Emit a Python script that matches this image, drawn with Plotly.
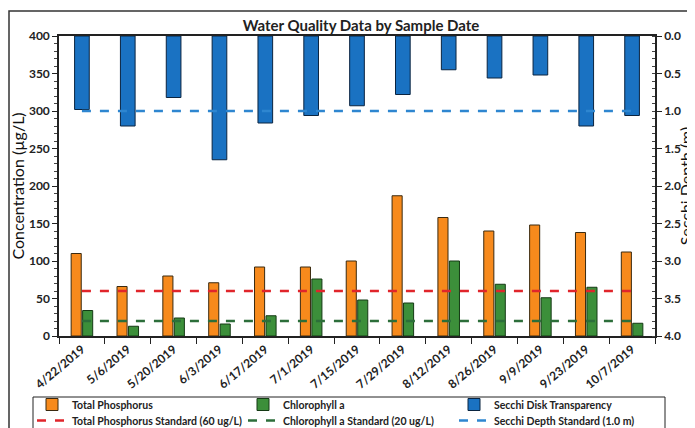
import plotly.graph_objects as go

dates = ["4/22/2019", "5/6/2019", "5/20/2019", "6/3/2019", "6/17/2019", "7/1/2019",
         "7/15/2019", "7/29/2019", "8/12/2019", "8/26/2019", "9/9/2019", "9/23/2019", "10/7/2019"]
total_phosphorus = [110, 66, 80, 71, 92, 92, 100, 187, 158, 140, 148, 138, 112]
chlorophyll_a = [34, 13, 24, 16, 27, 76, 48, 44, 100, 69, 51, 65, 17]
secchi_depth = [0.98, 1.20, 0.82, 1.65, 1.16, 1.06, 0.93, 0.78, 0.45, 0.56, 0.52, 1.20, 1.06]
tp_standard = [60] * len(dates)
chl_standard = [20] * len(dates)
secchi_standard = [1.0] * len(dates)

FONT = "Lato"
OFF = 8  # default body margin of the html page
W, H = 695 - OFF, 428 - OFF
# plot area in page pixels: x 59..655, y 36..336
L, T = 59 - OFF, 36 - OFF
R = W - (655 - OFF)
B = H - (336 - OFF)
PW, PH = W - L - R, H - T - B


def px_x(p):
    return (p - OFF - L) / PW


def px_y(p):
    return (H - B - (p - OFF)) / PH


fig = go.Figure()
fig.add_trace(go.Bar(x=dates, y=total_phosphorus, name="Total Phosphorus",
                     marker=dict(color="#F78A1C", line=dict(color="#3a2a10", width=1)),
                     yaxis="y", legend="legend"))
fig.add_trace(go.Bar(x=dates, y=chlorophyll_a, name="Chlorophyll a",
                     marker=dict(color="#3C8F3A", line=dict(color="#143a14", width=1)),
                     yaxis="y", legend="legend"))
fig.add_trace(go.Bar(x=dates, y=secchi_depth, name="Secchi Disk Transparency",
                     width=0.32,
                     marker=dict(color="#1A72C2", line=dict(color="#0a2440", width=1)),
                     yaxis="y2", legend="legend"))
fig.add_trace(go.Scatter(x=dates, y=tp_standard, name="Total Phosphorus Standard (60 ug/L)",
                         mode="lines", line=dict(color="#E0252B", width=2.5, dash="dash"),
                         yaxis="y", legend="legend2"))
fig.add_trace(go.Scatter(x=dates, y=chl_standard, name="Chlorophyll a Standard (20 ug/L)",
                         mode="lines", line=dict(color="#2C6E3A", width=2.5, dash="dash"),
                         yaxis="y", legend="legend2"))
fig.add_trace(go.Scatter(x=dates, y=secchi_standard, name="Secchi Depth Standard (1.0 m)",
                         mode="lines", line=dict(color="#2E86D0", width=2.5, dash="dash"),
                         yaxis="y2", legend="legend2"))

tickfont = dict(family=FONT, size=12, color="#222", weight="bold")
titlefont = dict(family=FONT, size=16, color="#111")
legfont = dict(family=FONT, size=10.5, color="#222", weight="bold")

legend_common = dict(orientation="h", xanchor="left", yanchor="top",
                     entrywidth=166, entrywidthmode="pixels",
                     borderwidth=0, bgcolor="rgba(0,0,0,0)",
                     font=legfont, tracegroupgap=0, itemwidth=30)

fig.update_layout(
    width=W, height=H,
    margin=dict(l=L, r=R, t=T, b=B, autoexpand=False),
    paper_bgcolor="white", plot_bgcolor="white",
    barmode="group", bargap=0.5, bargroupgap=0.12,
    showlegend=True,
    title=dict(text="Water Quality Data by Sample Date", x=(361 - OFF) / W, xanchor="center",
               y=1 - (26 - OFF) / H, yanchor="middle",
               font=dict(family=FONT, size=15, color="#222", weight="bold")),
    xaxis=dict(type="category", tickangle=-40, tickfont=tickfont, automargin=False,
               showline=True, linecolor="#222", linewidth=1.5, mirror=True,
               ticks="outside", ticklen=6, tickcolor="#222", tickson="boundaries",
               showgrid=False, zeroline=False),
    yaxis=dict(range=[0, 400], dtick=50, tickfont=tickfont, automargin=False,
               title=dict(text="Concentration (µg/L)", font=titlefont, standoff=8),
               showline=True, linecolor="#222", linewidth=1.5,
               ticks="outside", ticklen=5, tickcolor="#222",
               minor=dict(dtick=10, ticks="outside", ticklen=3, tickcolor="#444"),
               showgrid=False, zeroline=False),
    yaxis2=dict(range=[4, 0], dtick=0.5, tickformat=".1f", tickfont=tickfont, automargin=False,
                overlaying="y", side="right",
                title=dict(text="Secchi Depth (m)", font=titlefont, standoff=6),
                showline=True, linecolor="#222", linewidth=1.5,
                ticks="outside", ticklen=5, tickcolor="#222",
                minor=dict(dtick=0.1, ticks="inside", ticklen=3, tickcolor="#444"),
                showgrid=False, zeroline=False),
    legend=dict(x=px_x(32), y=px_y(390), **legend_common),
    legend2=dict(x=px_x(32), y=px_y(406), **legend_common),
    shapes=[
        dict(type="rect", xref="paper", yref="paper",
             x0=px_x(9), x1=px_x(760), y0=px_y(11), y1=px_y(480),
             line=dict(color="#333", width=1.5), fillcolor="rgba(0,0,0,0)", layer="below"),
        dict(type="rect", xref="paper", yref="paper",
             x0=px_x(33), x1=px_x(665), y0=px_y(397), y1=px_y(470),
             line=dict(color="#222", width=1), fillcolor="white", layer="below"),
    ],
)

fig.write_html("out.html")
